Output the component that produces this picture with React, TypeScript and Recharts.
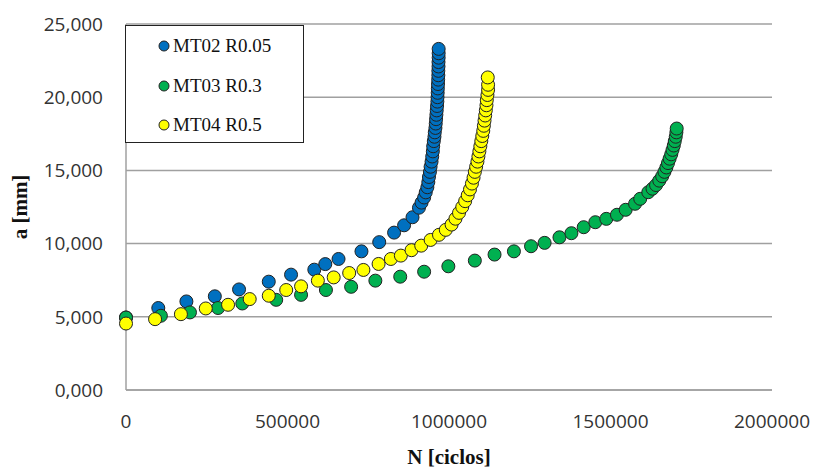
import { ScatterChart, Scatter, XAxis, YAxis, CartesianGrid, Legend } from "recharts";

// Crack length a [mm] against number of cycles N, one list per specimen
const MT02_N = [0, 100000, 187000, 275000, 350000, 442000, 511000, 583000, 617000, 658000, 729000, 784000, 830000, 861000, 887000, 907000, 915000, 923000, 928000, 933000, 936000, 938000, 941000, 943000, 946000, 948000, 950000, 951000, 953000, 955000, 956000, 958000, 959000, 960000, 961000, 962000, 963000, 964000, 964500, 965000, 965500, 966000, 966500, 967000, 967000, 967500, 967500, 968000, 968000, 968000];
const MT02_A = [4.95, 5.6, 6.05, 6.4, 6.87, 7.4, 7.88, 8.22, 8.6, 8.95, 9.47, 10.1, 10.75, 11.25, 11.8, 12.45, 12.8, 13.15, 13.5, 13.85, 14.2, 14.55, 14.9, 15.25, 15.6, 15.95, 16.3, 16.65, 17.0, 17.3, 17.6, 17.9, 18.2, 18.5, 18.8, 19.1, 19.4, 19.7, 20.0, 20.3, 20.6, 20.9, 21.2, 21.5, 21.8, 22.1, 22.4, 22.7, 23.0, 23.3];

const MT03_N = [0, 108000, 198000, 285000, 360000, 465000, 542000, 619000, 697000, 772000, 849000, 923000, 998000, 1080000, 1141000, 1201000, 1254000, 1296000, 1342000, 1379000, 1417000, 1453000, 1487000, 1520000, 1547000, 1576000, 1592000, 1617000, 1630000, 1641000, 1651000, 1660000, 1667000, 1673000, 1678000, 1683000, 1688000, 1692000, 1696000, 1699000, 1702000, 1704000, 1705000];
const MT03_A = [4.95, 5.07, 5.3, 5.6, 5.91, 6.16, 6.5, 6.83, 7.05, 7.47, 7.74, 8.08, 8.45, 8.84, 9.25, 9.47, 9.82, 10.05, 10.43, 10.71, 11.12, 11.46, 11.69, 11.97, 12.31, 12.72, 13.06, 13.51, 13.75, 14.0, 14.3, 14.6, 14.9, 15.2, 15.5, 15.8, 16.1, 16.4, 16.7, 17.0, 17.3, 17.6, 17.86];

const MT04_N = [0, 90000, 170000, 247000, 316000, 383000, 442000, 496000, 542000, 594000, 643000, 691000, 735000, 782000, 820000, 851000, 884000, 914000, 943000, 969000, 990000, 1008000, 1020000, 1031000, 1041000, 1050000, 1058000, 1065000, 1071000, 1076000, 1080000, 1084000, 1088000, 1091000, 1094000, 1097000, 1100000, 1103000, 1106000, 1108000, 1110000, 1112000, 1114000, 1116000, 1117000, 1119000, 1121000, 1121000, 1120000];
const MT04_A = [4.54, 4.84, 5.18, 5.57, 5.82, 6.21, 6.44, 6.83, 7.08, 7.47, 7.69, 7.99, 8.2, 8.61, 8.95, 9.18, 9.55, 9.86, 10.25, 10.6, 10.94, 11.3, 11.7, 12.1, 12.5, 12.9, 13.3, 13.7, 14.1, 14.5, 14.9, 15.25, 15.6, 15.95, 16.3, 16.65, 17.0, 17.35, 17.7, 18.05, 18.4, 18.75, 19.1, 19.45, 19.8, 20.15, 20.5, 20.85, 21.35];

const X_TICKS = [0, 500000, 1000000, 1500000, 2000000];
const Y_TICKS = [0, 5, 10, 15, 20, 25];

const SERIES = [
  { name: "MT02 R0.05", color: "#0070C0", n: MT02_N, a: MT02_A },
  { name: "MT03 R0.3", color: "#00B050", n: MT03_N, a: MT03_A },
  { name: "MT04 R0.5", color: "#FFFF00", n: MT04_N, a: MT04_A },
];

const toPoints = (n: number[], a: number[]) => n.map((v, i) => ({ n: v, a: a[i] }));

const TICK_FONT = { fontFamily: "'Open Sans', sans-serif", fontSize: 19, fill: "#333" };
const TITLE_FONT = { fontFamily: "'Liberation Serif', serif", fontWeight: 700, fontSize: 21, fill: "#111" };
const GRID = "#a0a0a0";

function Dot(props: any) {
  const { cx, cy, fill } = props;
  if (cx == null || cy == null) return null;
  return <circle cx={cx} cy={cy} r={6.5} fill={fill} stroke="#222" strokeWidth={1} />;
}

function LegendBox() {
  return (
    <div
      style={{
        width: 179,
        height: 118,
        boxSizing: "border-box",
        border: "1.5px solid #222",
        background: "#fff",
        position: "relative",
        fontFamily: "'Liberation Serif', serif",
        fontSize: 19,
        color: "#111",
      }}
    >
      {SERIES.map((s, i) => (
        <div key={s.name} style={{ position: "absolute", left: 32, top: 8 + i * 39.5, height: 24, display: "flex", alignItems: "center" }}>
          <svg width={12} height={12} style={{ marginRight: 3 }}>
            <circle cx={6} cy={6} r={5} fill={s.color} stroke="#222" strokeWidth={1} />
          </svg>
          <span>{s.name}</span>
        </div>
      ))}
    </div>
  );
}

export default function App() {
  return (
    <div style={{ position: "absolute", left: 0, top: 0, width: 819, height: 468, background: "#fff" }}>
      <ScatterChart width={819} height={468} margin={{ top: 24, right: 47, bottom: 0, left: 0 }}>
        <CartesianGrid horizontal vertical={false} stroke={GRID} strokeWidth={1.5} />
        <XAxis
          type="number"
          dataKey="n"
          domain={[0, 2000000]}
          ticks={X_TICKS}
          height={78}
          tickLine={false}
          tickSize={0}
          tickMargin={25}
          axisLine={{ stroke: GRID, strokeWidth: 1.5 }}
          tick={TICK_FONT}
          tickFormatter={(v: number) => String(v)}
          label={{ value: "N [ciclos]", position: "insideBottom", offset: 4, style: TITLE_FONT }}
        />
        <YAxis
          type="number"
          dataKey="a"
          domain={[0, 25]}
          ticks={Y_TICKS}
          width={126}
          tickLine={false}
          tickSize={0}
          tickMargin={23}
          axisLine={{ stroke: GRID, strokeWidth: 1.5 }}
          tick={TICK_FONT}
          tickFormatter={(v: number) => v.toFixed(3).replace(".", ",")}
          label={{ value: "a [mm]", angle: -90, position: "insideLeft", offset: 20, style: { ...TITLE_FONT, textAnchor: "middle" } }}
        />
        <Legend
          layout="vertical"
          align="center"
          verticalAlign="middle"
          wrapperStyle={{ left: 125, top: 25, width: 179, height: 118 }}
          content={() => <LegendBox />}
        />
        {SERIES.map((s) => (
          <Scatter
            key={s.name}
            name={s.name}
            data={toPoints(s.n, s.a)}
            fill={s.color}
            shape={<Dot />}
            isAnimationActive={false}
          />
        ))}
      </ScatterChart>
    </div>
  );
}
